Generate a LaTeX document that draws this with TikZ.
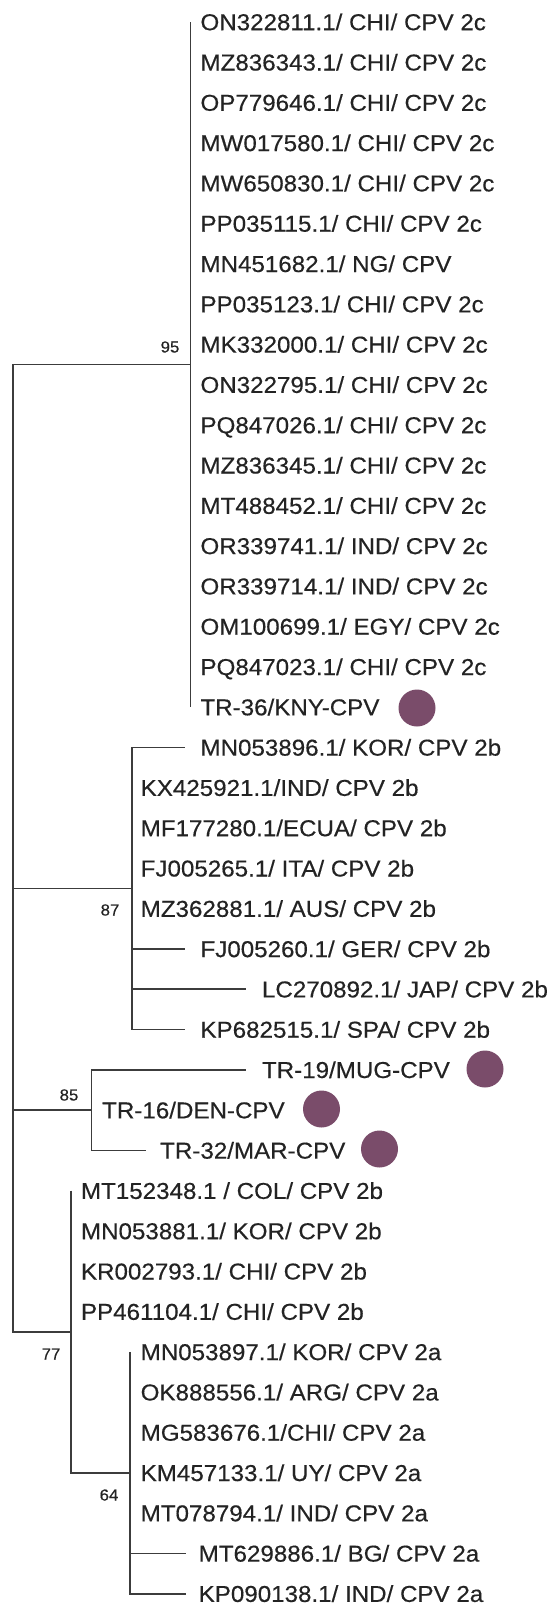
\documentclass[tikz,border=0pt]{standalone}
\usepackage{fontspec}
\setmainfont{Liberation Sans}[FakeStretch=1.05,FakeBold=0.4]
\definecolor{txt}{RGB}{35,35,35}
\definecolor{ln}{RGB}{60,60,60}
\definecolor{dotc}{RGB}{122,76,106}
\tikzset{
  br/.style={draw=ln, line width=1.8pt, line join=miter},
  leaf/.style={anchor=base west, inner sep=0pt, yshift=-8.2pt, text=txt,
    font=\fontsize{23}{28}\selectfont},
  boot/.style={inner sep=0pt, text=txt, font=\fontsize{16}{18}\selectfont},
  tag/.style={circle, fill=dotc, draw=none, minimum size=37pt, inner sep=0pt}
}
\begin{document}
\begin{tikzpicture}[x=1pt,y=-1pt]
\useasboundingbox (0,0) rectangle (551,1607);
% internal nodes
\coordinate (root) at (13,848);
\coordinate (c95) at (190.5,364.5);
\coordinate (c87) at (131.8,888.5);
\coordinate (c85) at (91.4,1110.1);
\coordinate (c77) at (71,1331.8);
\coordinate (c2a) at (130,1472.8);
% branch tips
\coordinate (t0) at (190.5,22.0);
\coordinate (t17) at (190.5,707.1);
\coordinate (t18) at (184.5,747.4);
\coordinate (t23) at (184.5,948.9);
\coordinate (t24) at (246,989.2);
\coordinate (t25) at (184.5,1029.5);
\coordinate (t26) at (246,1069.8);
\coordinate (t28) at (145.8,1150.4);
\coordinate (t29) at (71,1190.7);
\coordinate (t33) at (130,1351.9);
\coordinate (t38) at (186,1553.4);
\coordinate (t39) at (186,1593.7);
% branches
\draw[br] (c95) -| (root) |- (c77);
\draw[br] (root) |- (c87);
\draw[br] (root) |- (c85);
\draw[br] (t0) -- (t17);
\draw[br] (c87) |- (t18);
\draw[br] (c87) |- (t25);
\draw[br] (c87) |- (t23);
\draw[br] (c87) |- (t24);
\draw[br] (c85) |- (t26);
\draw[br] (c85) |- (t28);
\draw[br] (t29) |- (c2a);
\draw[br] (t33) |- (t39);
\draw[br] (c2a) |- (t38);
% leaves
\node[leaf] (l0) at (200.3,22.0) {ON322811.1/ CHI/ CPV 2c};
\node[leaf] (l1) at (200.3,62.3) {MZ836343.1/ CHI/ CPV 2c};
\node[leaf] (l2) at (200.3,102.6) {OP779646.1/ CHI/ CPV 2c};
\node[leaf] (l3) at (200.3,142.9) {MW017580.1/ CHI/ CPV 2c};
\node[leaf] (l4) at (200.3,183.2) {MW650830.1/ CHI/ CPV 2c};
\node[leaf] (l5) at (200.3,223.5) {PP035115.1/ CHI/ CPV 2c};
\node[leaf] (l6) at (200.3,263.8) {MN451682.1/ NG/ CPV};
\node[leaf] (l7) at (200.3,304.1) {PP035123.1/ CHI/ CPV 2c};
\node[leaf] (l8) at (200.3,344.4) {MK332000.1/ CHI/ CPV 2c};
\node[leaf] (l9) at (200.3,384.7) {ON322795.1/ CHI/ CPV 2c};
\node[leaf] (l10) at (200.3,425.0) {PQ847026.1/ CHI/ CPV 2c};
\node[leaf] (l11) at (200.3,465.3) {MZ836345.1/ CHI/ CPV 2c};
\node[leaf] (l12) at (200.3,505.6) {MT488452.1/ CHI/ CPV 2c};
\node[leaf] (l13) at (200.3,545.9) {OR339741.1/ IND/ CPV 2c};
\node[leaf] (l14) at (200.3,586.2) {OR339714.1/ IND/ CPV 2c};
\node[leaf] (l15) at (200.3,626.5) {OM100699.1/ EGY/ CPV 2c};
\node[leaf] (l16) at (200.3,666.8) {PQ847023.1/ CHI/ CPV 2c};
\node[leaf] (l17) at (200.3,707.1) {TR-36/KNY-CPV};
\node[leaf] (l18) at (200.3,747.4) {MN053896.1/ KOR/ CPV 2b};
\node[leaf] (l19) at (140.5,787.7) {KX425921.1/IND/ CPV 2b};
\node[leaf] (l20) at (140.5,828.0) {MF177280.1/ECUA/ CPV 2b};
\node[leaf] (l21) at (140.5,868.3) {FJ005265.1/ ITA/ CPV 2b};
\node[leaf] (l22) at (140.5,908.6) {MZ362881.1/ AUS/ CPV 2b};
\node[leaf] (l23) at (200.3,948.9) {FJ005260.1/ GER/ CPV 2b};
\node[leaf] (l24) at (261.8,989.2) {LC270892.1/ JAP/ CPV 2b};
\node[leaf] (l25) at (200.3,1029.5) {KP682515.1/ SPA/ CPV 2b};
\node[leaf] (l26) at (261.8,1069.8) {TR-19/MUG-CPV};
\node[leaf] (l27) at (102,1110.1) {TR-16/DEN-CPV};
\node[leaf] (l28) at (160,1150.4) {TR-32/MAR-CPV};
\node[leaf] (l29) at (80.8,1190.7) {MT152348.1 / COL/ CPV 2b};
\node[leaf] (l30) at (80.8,1231.0) {MN053881.1/ KOR/ CPV 2b};
\node[leaf] (l31) at (80.8,1271.3) {KR002793.1/ CHI/ CPV 2b};
\node[leaf] (l32) at (80.8,1311.6) {PP461104.1/ CHI/ CPV 2b};
\node[leaf] (l33) at (140.5,1351.9) {MN053897.1/ KOR/ CPV 2a};
\node[leaf] (l34) at (140.5,1392.2) {OK888556.1/ ARG/ CPV 2a};
\node[leaf] (l35) at (140.5,1432.5) {MG583676.1/CHI/ CPV 2a};
\node[leaf] (l36) at (140.5,1472.8) {KM457133.1/ UY/ CPV 2a};
\node[leaf] (l37) at (140.5,1513.1) {MT078794.1/ IND/ CPV 2a};
\node[leaf] (l38) at (198.5,1553.4) {MT629886.1/ BG/ CPV 2a};
\node[leaf] (l39) at (198.5,1593.7) {KP090138.1/ IND/ CPV 2a};
% bootstrap values
\node[boot] (b95) at (170,347) {95};
\node[boot] (b87) at (110,910) {87};
\node[boot] (b85) at (69,1095) {85};
\node[boot] (b77) at (51,1354) {77};
\node[boot] (b64) at (109,1495) {64};
% markers
\node[tag] (m17) at (417,708) {};
\node[tag] (m26) at (485,1069) {};
\node[tag] (m27) at (321.5,1109) {};
\node[tag] (m28) at (379.5,1149) {};
\end{tikzpicture}
\end{document}
